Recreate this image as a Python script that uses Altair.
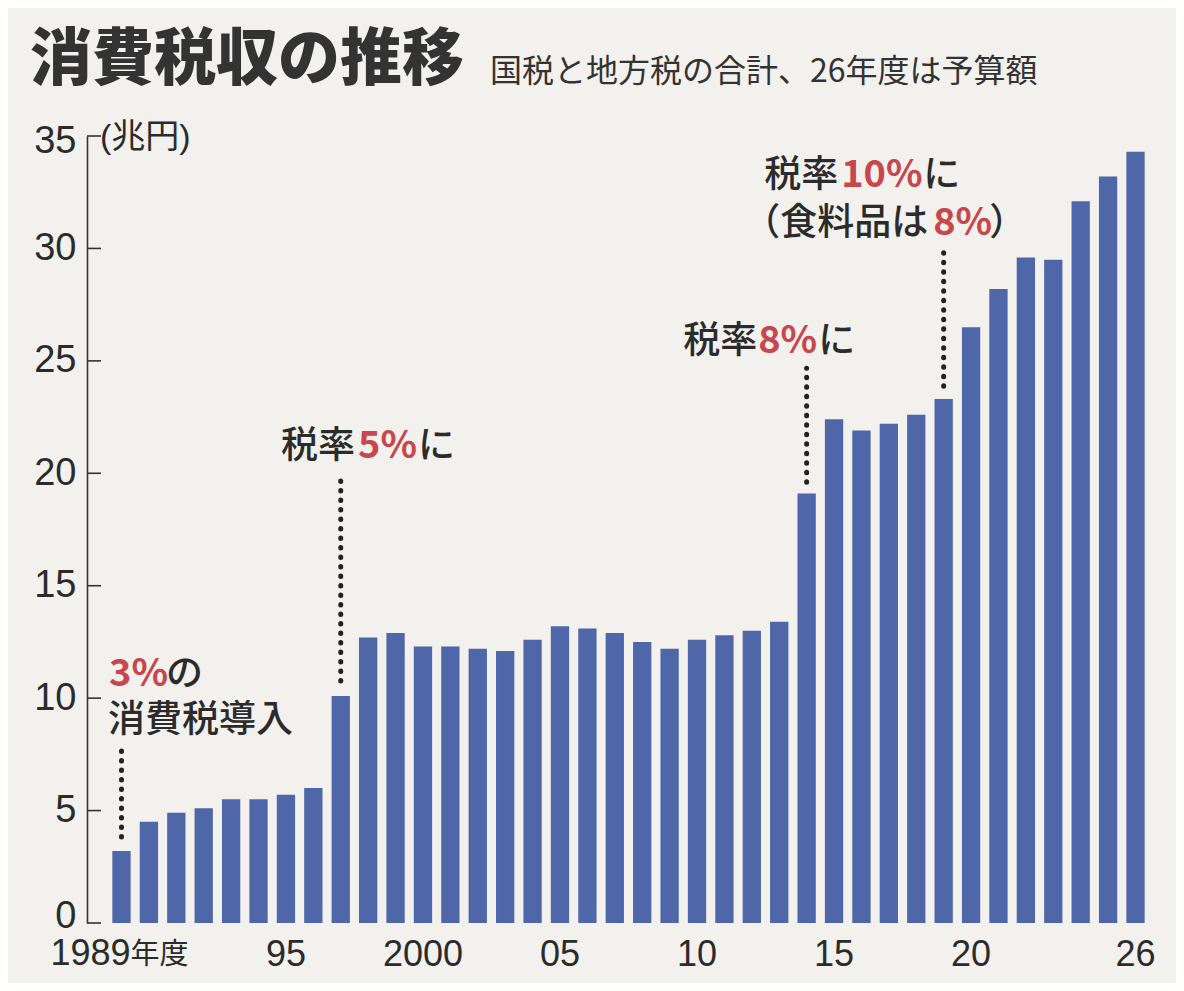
import altair as alt
import pandas as pd

# ---- data ----
years = list(range(1989, 2027))
values = [3.2, 4.5, 4.9, 5.1, 5.5, 5.5, 5.7, 6.0,
          10.1,
          12.7, 12.9,
          12.3, 12.3, 12.2, 12.1,
          12.6, 13.2, 13.1, 12.9, 12.5, 12.2,
          12.6, 12.8, 13.0, 13.4,
          19.1,
          22.4, 21.9, 22.2, 22.6,
          23.3,
          26.5, 28.2, 29.6, 29.5,
          32.1, 33.2, 34.3]

x_label_years = [1995, 2000, 2005, 2010, 2015, 2020, 2026]
x_label_texts = ["95", "2000", "05", "10", "15", "20", "26"]
first_year_label = "1989"
first_year_suffix = "年度"
y_ticks = [0, 5, 10, 15, 20, 25, 30, 35]

title_text = "消費税収の推移"
subtitle_text = "国税と地方税の合計、26年度は予算額"
unit_text = "(兆円)"

# dotted leader lines: year, from value, to value
lead_years = [1989, 1997, 2014, 2019]
lead_from = [3.82, 10.76, 19.6, 23.87]
lead_to = [7.69, 19.78, 24.67, 30.04]

# annotation text segments: anchor year, level, text, red?, offset
seg_years = [1989, 1989, 1989,
             1997, 1997, 1997,
             2014, 2014, 2014,
             2019, 2019, 2019,
             2019, 2019, 2019]
seg_levels = [11.05, 11.05, 8.98,
              21.16, 21.16, 21.16,
              25.82, 25.82, 25.82,
              33.2, 33.2, 33.2,
              31.1, 31.1, 31.1]
seg_texts = ["3%", "の", "消費税導入",
             "税率", "5%", "に",
             "税率", "8%", "に",
             "税率", "10%", "に",
             "（食料品は", "8%", "）"]
seg_red = [True, False, False,
           False, True, False,
           False, True, False,
           False, True, False,
           False, True, False]
seg_dx = [-12.5, 44.5, -13.5,
          -59.7, 17.3, 77.3,
          -123.5, -48.5, 11.5,
          -179.5, -102.5, -20.5,
          -200.5, -10.5, 45.5]

# ---- styling ----
BAR = "#4f67a8"
RED = "#c8474c"
INK = "#2b2b2b"
NUM_FONT = "Liberation Sans Narrow, Arial Narrow, Liberation Sans, Noto Sans CJK JP, sans-serif"
JP_FONT = "Noto Sans CJK JP"

W, H = 1083, 787

bars_df = pd.DataFrame({"year": years, "value": values})
label_expr = " : ".join(
    f"datum.value == {y} ? '{t}'" for y, t in zip(x_label_years, x_label_texts)
) + " : ''"

x_enc = alt.X(
    "year:O",
    scale=alt.Scale(paddingInner=0.332, paddingOuter=0.925),
    axis=alt.Axis(
        title=None, domain=False, ticks=False, tickSize=0,
        labelExpr=label_expr, labelAngle=0, labelFont=NUM_FONT,
        labelFontSize=36, labelColor=INK, labelPadding=42,
        labelOverlap=False, labelBaseline="alphabetic",
    ),
)
y_scale = alt.Scale(domain=[0, 35], nice=False)

bars = alt.Chart(bars_df).mark_bar(color=BAR).encode(
    x=x_enc,
    y=alt.Y(
        "value:Q", scale=y_scale,
        axis=alt.Axis(
            title=None, values=y_ticks, grid=False, ticks=False, tickSize=0,
            domainColor="#333333", domainWidth=1.6,
            labelFont=NUM_FONT, labelFontSize=38, labelColor=INK,
            labelPadding=11,
            labelOffset={"condition": [
                {"test": "datum.value == 0", "value": -7},
                {"test": "datum.value == 35", "value": 5},
            ], "value": 0},
        ),
    ),
)

ticks = alt.Chart(pd.DataFrame({"v": y_ticks})).mark_rule(
    color="#333333", strokeWidth=1.6
).encode(
    y=alt.Y("v:Q", scale=y_scale),
    x=alt.value(0), x2=alt.value(14),
)

leads = alt.Chart(pd.DataFrame({"year": lead_years, "a": lead_from, "b": lead_to})).mark_rule(
    color="#222222", strokeWidth=5, strokeDash=[0.5, 9], strokeCap="round"
).encode(
    x="year:O",
    y=alt.Y("a:Q", scale=y_scale),
    y2="b:Q",
)

seg_df = pd.DataFrame({
    "year": seg_years, "lv": seg_levels, "t": seg_texts,
    "red": seg_red, "dx": seg_dx,
})
seg_layers = []
for i, row in seg_df.iterrows():
    is_red = bool(row["red"])
    seg_layers.append(
        alt.Chart(seg_df.iloc[[i]]).mark_text(
            align="left", baseline="middle", dx=float(row["dx"]),
            font=JP_FONT,
            fontSize=38 if is_red else 37,
            fontWeight="bold" if is_red else 500,
            color=RED if is_red else INK,
        ).encode(
            x="year:O",
            y=alt.Y("lv:Q", scale=y_scale),
            text="t:N",
        )
    )

first_df = pd.DataFrame({"year": [1989], "v": [0], "a": [first_year_label], "b": [first_year_suffix]})
first_num = alt.Chart(first_df).mark_text(
    align="right", baseline="alphabetic", dx=9, dy=42,
    font=NUM_FONT, fontSize=36, color=INK,
).encode(x="year:O", y=alt.Y("v:Q", scale=y_scale), text="a:N")
first_suffix = alt.Chart(first_df).mark_text(
    align="left", baseline="alphabetic", dx=9, dy=41,
    font=JP_FONT, fontSize=29, color=INK,
).encode(x="year:O", y=alt.Y("v:Q", scale=y_scale), text="b:N")

title = alt.Chart(pd.DataFrame({"t": [title_text]})).mark_text(
    align="left", baseline="middle", font=JP_FONT, fontSize=62,
    fontWeight=900, color="#333333",
).encode(x=alt.value(-57), y=alt.value(-75), text="t:N")

subtitle = alt.Chart(pd.DataFrame({"t": [subtitle_text]})).mark_text(
    align="left", baseline="middle", font=JP_FONT, fontSize=32,
    color="#333333",
).encode(x=alt.value(403), y=alt.value(-64), text="t:N")

unit = alt.Chart(pd.DataFrame({"t": [unit_text], "v": [35]})).mark_text(
    align="left", baseline="middle", font=NUM_FONT, fontSize=34,
    color=INK, dy=2,
).encode(x=alt.value(13), y=alt.Y("v:Q", scale=y_scale), text="t:N")

chart = alt.layer(
    bars, ticks, leads, *seg_layers, first_num, first_suffix, title, subtitle, unit
).properties(
    width=W, height=H,
    autosize=alt.AutoSizeParams(type="none"),
    padding={"left": 79, "top": 128, "right": 6, "bottom": 60},
    background="#f2f1ee",
).configure_view(stroke=None)

chart.save("out.html", embed_options={"renderer": "svg", "actions": False})
